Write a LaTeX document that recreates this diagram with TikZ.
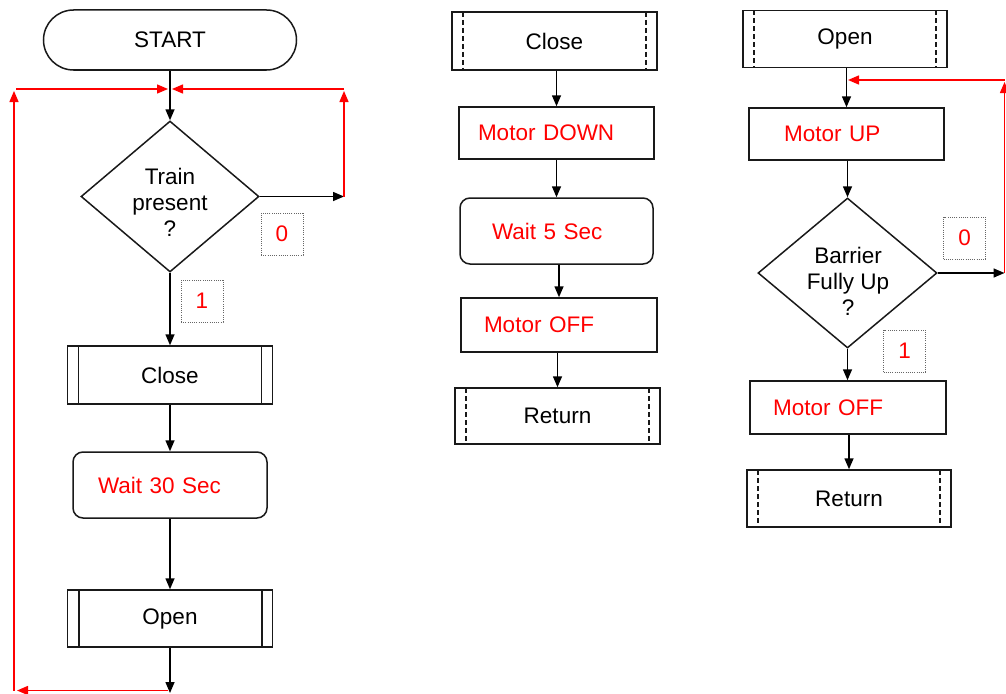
\documentclass[tikz,border=0pt]{standalone}
\usepackage{fontspec}
\setmainfont{Liberation Sans}
\usetikzlibrary{shapes.geometric,arrows.meta}
\begin{document}
\begin{tikzpicture}[x=1pt,y=-1pt,
  font=\fontsize{22.5}{26}\selectfont,
  line width=1.5pt,
  base/.style={draw=black!90, line width=1.5pt, inner sep=0pt},
  term/.style={base, rounded corners=30pt, minimum width=253pt, minimum height=60pt},
  dia/.style={base, diamond, minimum width=178pt, minimum height=151pt},
  dtext/.style={align=center, inner sep=0pt},
  proc/.style={base, text=red, align=left, inner ysep=0pt},
  waitbox/.style={proc, rounded corners=10pt},
  subsolid/.style={base, minimum width=205pt, minimum height=58pt,
    path picture={
      \draw[black!90, line width=#1]
        ([xshift=11pt]path picture bounding box.north west) -- ([xshift=11pt]path picture bounding box.south west)
        ([xshift=-11pt]path picture bounding box.north east) -- ([xshift=-11pt]path picture bounding box.south east);}},
  subdash/.style={base, minimum width=205pt, minimum height=57pt,
    path picture={
      \draw[black!90, line width=1.3pt, dash pattern=on 5pt off 3pt]
        ([xshift=11pt]path picture bounding box.north west) -- ([xshift=11pt]path picture bounding box.south west)
        ([xshift=-11pt]path picture bounding box.north east) -- ([xshift=-11pt]path picture bounding box.south east);}},
  lblbox/.style={draw=black!60, line width=1pt, dash pattern=on 1pt off 1.2pt,
    minimum width=42pt, minimum height=42pt, inner sep=0pt, text=red},
  arr/.style={black, line width=1.5pt, -{Triangle[length=11pt,width=9pt]}},
  rarr/.style={red, line width=1.4pt, -{Triangle[length=11pt,width=9pt]}}
]
\useasboundingbox (0,0) rectangle (1006,693);

% ---------- left column ----------
\node[term] (start) at (170,40) {START};
\node[dia] (d1) at (170,196.5) {};
\node[dtext] (d1t) at (170,202) {Train\\present\\?};
\node[lblbox] (l0a) at (282,234) {0};
\node[lblbox] (l1a) at (202,301) {1};
\node[subsolid=1.2pt] (lclose) at (170,375) {Close};
\node[waitbox, minimum height=66pt, text width=144pt, inner xsep=25pt] (w30) at (170,485) {Wait 30 Sec};
\node[subsolid=2pt, minimum height=57pt] (lopen) at (170,618.5) {Open};

\coordinate (r1) at (344,196.5);
\coordinate (r1t) at (344,91);
\coordinate (r1c) at (344,89);
\coordinate (jr) at (172,89);
\coordinate (jl) at (168,89);
\coordinate (lend) at (170,693);
\coordinate (lb1) at (168,690.5);
\coordinate (lb2) at (17,690.5);
\coordinate (lv1) at (14,690.5);
\coordinate (lv2) at (14,91);
\coordinate (lh1) at (16,89);

\draw[arr] (start.south) -- (d1.north);
\draw[arr] (d1.east) -- (r1);
\draw[rarr] (r1) -- (r1t);
\draw[rarr] (r1c) -- (jr);
\draw[arr] (d1.south) -- (lclose.north);
\draw[arr] (lclose.south) -- (w30.north);
\draw[arr] (w30.south) -- (lopen.north);
\draw[arr] (lopen.south) -- (lend);
\draw[rarr] (lb1) -- (lb2);
\draw[rarr] (lv1) -- (lv2);
\draw[rarr] (lh1) -- (jl);

% ---------- middle column ----------
\node[subdash, minimum height=58pt] (mclose) at (554.5,41) {Close};
\node[proc, minimum height=52pt, text width=157pt, inner xsep=19pt] (mdown) at (556.5,133) {Motor DOWN};
\node[waitbox, minimum height=66pt, text width=129pt, inner xsep=32pt] (w5) at (556.5,231) {Wait 5 Sec};
\node[proc, minimum height=54pt, text width=150pt, inner xsep=23pt] (moff) at (559,325) {Motor OFF};
\node[subdash, minimum height=56pt] (mret) at (557.5,416) {Return};

\draw[arr] (mclose.south -| mdown.north) -- (mdown.north);
\draw[arr] (mdown.south) -- (w5.north);
\draw[arr] (w5.south -| moff.north) -- (moff.north);
\draw[arr] (moff.south -| mret.north) -- (mret.north);

% ---------- right column ----------
\node[subdash, minimum width=204pt] (ropen) at (845,39) {Open};
\node[proc, minimum height=52pt, text width=125pt, inner xsep=35pt] (rup) at (846.5,134) {Motor UP};
\node[dia, minimum width=179pt, minimum height=150pt] (d2) at (847.5,273) {};
\node[dtext] (d2t) at (848,281) {Barrier\\Fully Up\\?};
\node[lblbox] (l0b) at (964.5,238) {0};
\node[lblbox] (l1b) at (904.5,351) {1};
\node[proc, minimum height=53pt, text width=150pt, inner xsep=23pt] (roff) at (848,407.5) {Motor OFF};
\node[subdash, minimum width=204pt] (rret) at (849,498.5) {Return};

\coordinate (r2) at (1004.5,273);
\coordinate (r2t) at (1004.5,82);
\coordinate (r2c) at (1004.5,80);
\coordinate (j2) at (848,80);

\draw[arr] (ropen.south -| rup.north) -- (rup.north);
\draw[arr] (rup.south -| d2.north) -- (d2.north);
\draw[arr] (d2.east) -- (r2);
\draw[rarr] (r2) -- (r2t);
\draw[rarr] (r2c) -- (j2);
\draw[arr] (d2.south) -- (d2.south |- roff.north);
\draw[arr] (roff.south -| rret.north) -- (rret.north);
\end{tikzpicture}
\end{document}
